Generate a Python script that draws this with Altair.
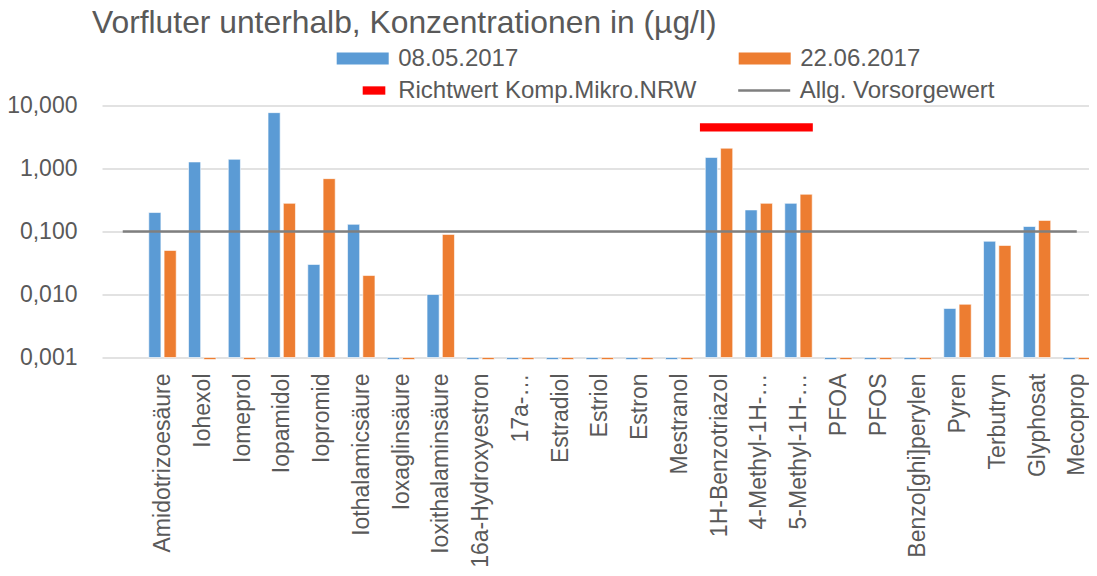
import json
import altair as alt
import pandas as pd

# ---------------- data ----------------
categories = [
    "Amidotrizoesäure", "Iohexol", "Iomeprol", "Iopamidol", "Iopromid",
    "Iothalamicsäure", "Ioxaglinsäure", "Ioxithalaminsäure", "16a-Hydroxyestron",
    "17a-…", "Estradiol", "Estriol", "Estron", "Mestranol", "1H-Benzotriazol",
    "4-Methyl-1H-…", "5-Methyl-1H-…", "PFOA", "PFOS", "Benzo[ghi]perylen",
    "Pyren", "Terbutryn", "Glyphosat", "Mecoprop",
]
series_names = ["08.05.2017", "22.06.2017"]
values_0805 = [0.2, 1.27, 1.4, 7.7, 0.03, 0.13, 0, 0.01, 0, 0, 0, 0, 0, 0,
               1.5, 0.22, 0.28, 0, 0, 0, 0.006, 0.07, 0.12, 0]
values_2206 = [0.05, 0, 0, 0.28, 0.69, 0.02, 0, 0.09, 0, 0, 0, 0, 0, 0,
               2.1, 0.28, 0.39, 0, 0, 0, 0.007, 0.06, 0.15, 0]

richtwert_label = "Richtwert Komp.Mikro.NRW"
richtwert_categories = ["1H-Benzotriazol", "4-Methyl-1H-…", "5-Methyl-1H-…"]
richtwert_value = 4.5

vorsorge_label = "Allg. Vorsorgewert"
vorsorge_value = 0.1

y_ticks = [0.001, 0.01, 0.1, 1, 10]

bar_colors = ["#5B9BD5", "#ED7D31"]
line_series = [richtwert_label, vorsorge_label]
line_colors = ["#FF0000", "#7F7F7F"]
all_series = series_names + line_series
all_colors = bar_colors + line_colors
bar_legend_shapes = ["M-1,-0.23H1V0.23H-1Z", "M-1,-0.23H1V0.23H-1Z"]
line_legend_shapes = ["M0,-0.16H0.87V0.16H0Z", "M-1,-0.052H1V0.052H-1Z"]

# ---------------- tables ----------------
rows = []
for i, c in enumerate(categories):
    rows.append({"idx": i, "category": c, "series": series_names[0], "value": values_0805[i]})
    rows.append({"idx": i, "category": c, "series": series_names[1], "value": values_2206[i]})
bars_df = pd.DataFrame(rows)

richt_df = pd.DataFrame({
    "idx": [categories.index(c) for c in richtwert_categories],
    "series": richtwert_label,
    "value": richtwert_value,
})
vors_df = pd.DataFrame({
    "idx": list(range(len(categories))),
    "series": vorsorge_label,
    "value": vorsorge_value,
})

# ---------------- scales / axes ----------------
FONT = "Liberation Sans"
TXT = "#595959"

x_scale = alt.Scale(domain=[-1.522, 23.308], nice=False, zero=False, padding=0)
y_scale = alt.Scale(type="log", domain=[y_ticks[0], y_ticks[-1]], nice=False, padding=0)
fill_scale = alt.Scale(domain=all_series, range=all_colors)

label_array = "[" + ",".join(json.dumps(c, ensure_ascii=False) for c in categories) + "]"

x_axis = alt.Axis(
    values=list(range(len(categories))),
    labelExpr=label_array + "[datum.value]",
    labelAngle=270,
    labelFontSize=23,
    labelFont=FONT,
    labelColor=TXT,
    labelLimit=400,
    labelOverlap=False,
    labelFlush=False,
    labelPadding=15.5,
    ticks=False,
    domain=False,
    grid=False,
    title=None,
)
y_axis = alt.Axis(
    values=y_ticks,
    labelExpr="replace(format(datum.value, '.3f'), '.', ',')",
    labelFontSize=23,
    labelFont=FONT,
    labelColor=TXT,
    labelPadding=25,
    ticks=False,
    domain=False,
    grid=True,
    gridColor="#D9D9D9",
    gridWidth=1.6,
    title=None,
)

# ---------------- layers ----------------
bars = alt.Chart(bars_df).transform_calculate(
    x0="datum.idx + (datum.series === '" + series_names[0] + "' ? -0.345 : 0.04)",
    disp="datum.value > 0 ? datum.value : 0.00093",
).transform_calculate(
    x1="datum.x0 + 0.305",
).mark_bar(stroke="white", strokeWidth=0.6).encode(
    x=alt.X("x0:Q", scale=x_scale, axis=x_axis),
    x2="x1:Q",
    y=alt.Y("disp:Q", scale=y_scale, axis=y_axis),
    y2=alt.Y2(datum=y_ticks[0]),
    fill=alt.Fill("series:N", scale=fill_scale, legend=None),
)

vors = alt.Chart(vors_df).transform_aggregate(
    lo="min(idx)", hi="max(idx)", groupby=["series", "value"]
).transform_calculate(
    xs="datum.lo - 1"
).mark_rule(strokeWidth=2.7, strokeCap="butt").encode(
    x=alt.X("xs:Q", scale=x_scale),
    x2="hi:Q",
    y=alt.Y("value:Q", scale=y_scale),
    stroke=alt.Stroke("series:N", scale=fill_scale, legend=None),
)

richt = alt.Chart(richt_df).transform_aggregate(
    lo="min(idx)", hi="max(idx)", groupby=["series", "value"]
).transform_calculate(
    xs="datum.lo - 0.48", xe="datum.hi + 0.36"
).mark_rule(strokeWidth=8.3, strokeCap="butt").encode(
    x=alt.X("xs:Q", scale=x_scale),
    x2="xe:Q",
    y=alt.Y("value:Q", scale=y_scale),
    stroke=alt.Stroke("series:N", scale=fill_scale, legend=None),
)


def legend_layer(names, colors, shapes, ly, colpad):
    leg = alt.Legend(
        orient="none", legendX=234.7, legendY=ly, direction="horizontal",
        columns=2, columnPadding=colpad, padding=0,
        labelFontSize=24, labelFont=FONT, labelColor=TXT, labelOffset=9.5,
        labelLimit=400, symbolSize=2704, symbolOpacity=1, symbolStrokeWidth=0,
        title=None,
    )
    return alt.Chart(pd.DataFrame({"series": names})).transform_filter("false").mark_point(
        filled=True, opacity=1, size=2704
    ).encode(
        color=alt.Color("series:N", scale=alt.Scale(domain=names, range=colors), legend=leg),
        shape=alt.Shape("series:N", scale=alt.Scale(domain=names, range=shapes), legend=leg),
    )


leg_bars = legend_layer(series_names, bar_colors, bar_legend_shapes, -73, 220)
leg_lines = legend_layer(line_series, line_colors, line_legend_shapes, -41, 41.5)

chart = alt.layer(bars, vors, richt, leg_bars, leg_lines).properties(
    width=987,
    height=252,
    title=alt.Title(
        "Vorfluter unterhalb, Konzentrationen in (µg/l)",
        anchor="start", frame="group", orient="top", baseline="alphabetic",
        offset=0, dx=-10, dy=32.3, fontSize=31.8, font=FONT, color=TXT, fontWeight="normal",
    ),
    autosize=alt.AutoSizeParams(type="none"),
    padding={"left": 94, "top": 97.5, "right": 0, "bottom": 210},
).resolve_scale(
    fill="independent", stroke="independent", color="independent", shape="independent"
).configure(font=FONT).configure_view(strokeWidth=0)

chart.save("out.html", embed_options={"renderer": "svg", "actions": False})
